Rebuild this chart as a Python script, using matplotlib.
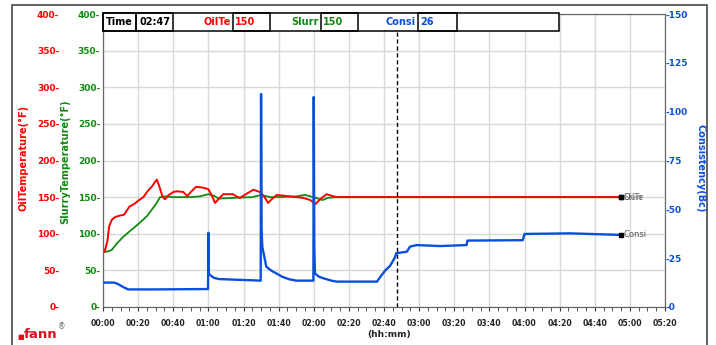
import matplotlib.pyplot as plt
from matplotlib.patches import Rectangle
from matplotlib.ticker import MultipleLocator

# ---- data (minutes since start) ----
oil_t = [0, 1, 2.5, 3.5, 5, 7, 10, 12, 15, 18, 20, 23, 25, 28, 30.6, 32, 34, 35.3, 37, 40, 42,
         45.7, 48, 50, 53, 57, 60, 62, 63.8, 66, 68.5, 74, 76, 78, 82, 85.6, 89.4, 92, 94, 96, 99,
         104.6, 110, 114, 118, 121, 124, 127.4, 130, 133, 295]
oil_v = [74, 76, 90, 110, 119, 123, 125, 126, 137, 141, 145, 150, 157, 165, 174, 165, 150, 147, 152,
         157, 158, 157, 151.5, 157, 164, 163, 160.7, 152, 142, 148, 154, 154, 151, 149, 155, 160, 157,
         150, 142, 147, 153, 151.5, 150, 149, 146, 140.6, 148, 154, 152, 150, 150]

slurry_t = [0, 3, 5, 8, 11.6, 15, 20, 25, 30, 32.5, 35, 40, 50, 55, 60, 63, 66, 75, 85, 90, 95,
            100, 110, 115, 120, 125, 128, 133, 295]
slurry_v = [75, 76, 78, 87, 96, 103, 113, 124, 140, 150, 151, 150, 150, 151, 154, 152, 148, 149,
            150, 153, 150, 150, 151, 153, 150, 146, 149, 150, 150]

consi_t = [0, 6, 8, 10, 12, 14.4, 30, 59.8, 60, 60.3, 61, 63, 66, 75, 89.8, 90, 90.3, 90.7, 93, 96,
           98.7, 102, 106, 110, 119.8, 120, 120.3, 120.7, 123, 125.5, 130, 133, 156, 158.7, 161,
           163.4, 166, 167, 169, 173, 174.8, 178.6, 192, 207, 207.5, 239, 240, 266, 295]
consi_v = [12.5, 12.5, 12, 11, 10, 9, 9, 9.2, 38, 17, 16.4, 15, 14.3, 14, 13.5, 109, 40, 30.9, 20.6,
           18.5, 17.2, 15.5, 14.2, 13.5, 13.5, 107.5, 30, 17.2, 15.5, 14.7, 13.5, 13, 13, 16.4, 19,
           21, 25, 27.5, 27.8, 28.3, 30.9, 31.7, 31.2, 31.7, 34, 34.2, 37.4, 37.7, 36.9]

x_ticks = list(range(0, 321, 20))
x_labels = ["%02d:%02d" % (m // 60, m % 60) for m in x_ticks]
temp_ticks = list(range(0, 401, 50))
consi_ticks = list(range(0, 151, 25))

cursor_t = 167.4
header = {"Time": "02:47", "OilTe": "150", "Slurr": "150", "Consi": "26"}

RED = "#ff0000"
GREEN = "#118a11"
BLUE = "#0a4fdc"
W, H = 716, 345

fig = plt.figure(figsize=(7.16, 3.45), dpi=100)
ax = fig.add_axes([103 / W, 1 - 307 / H, 562 / W, 293 / H])
ax.set_xlim(0, 320)
ax.set_ylim(0, 400)

# grid
ax.set_xticks(x_ticks)
ax.set_xticklabels(x_labels)
ax.xaxis.set_minor_locator(MultipleLocator(5))
ax.grid(True, color="#d8d8d8", lw=1)
ax.tick_params(axis="x", which="both", length=3, color="#333", labelsize=5.6, pad=6,
               labelcolor="#222")
for lab in ax.get_xticklabels():
    lab.set_fontweight("bold")

# green axis (slurry) labels on ax
ax.set_yticks(temp_ticks)
ax.set_yticklabels([f"{v}-" for v in temp_ticks])
ax.tick_params(axis="y", length=0, pad=2, labelsize=6.5, labelcolor=GREEN)
for lab in ax.get_yticklabels():
    lab.set_fontweight("bold")
for s in ax.spines.values():
    s.set_color("#666")

# red axis (oil) labels further left
ax_red = ax.twinx()
ax_red.set_ylim(0, 400)
ax_red.yaxis.set_ticks_position("left")
ax_red.set_yticks(temp_ticks)
ax_red.set_yticklabels([f"{v}-" for v in temp_ticks])
ax_red.tick_params(axis="y", length=0, pad=31.5, labelsize=6.5, labelcolor=RED)
for lab in ax_red.get_yticklabels():
    lab.set_fontweight("bold")
for s in ax_red.spines.values():
    s.set_visible(False)

# blue axis (consistency)
ax_c = ax.twinx()
ax_c.set_ylim(0, 150)
ax_c.set_yticks(consi_ticks)
ax_c.set_yticklabels([f"-{v}" for v in consi_ticks])
ax_c.tick_params(axis="y", length=0, pad=0.5, labelsize=6.5, labelcolor=BLUE)
for lab in ax_c.get_yticklabels():
    lab.set_fontweight("bold")
for s in ax_c.spines.values():
    s.set_color("#666")

# lines
ax.plot(slurry_t, slurry_v, color=GREEN, lw=1.3, zorder=3)
ax.plot(oil_t, oil_v, color=RED, lw=1.4, zorder=4)
ax_c.plot(consi_t, consi_v, color=BLUE, lw=1.7, zorder=5)

# end markers and names
ax.plot([slurry_t[-1]], [slurry_v[-1]], "s", color="k", ms=3, zorder=6)
ax.plot([oil_t[-1]], [oil_v[-1]], "s", color="k", ms=3, zorder=6)
ax_c.plot([consi_t[-1]], [consi_v[-1]], "s", color="k", ms=3, zorder=6)
ax.text(oil_t[-1] + 1.5, oil_v[-1], "OilTe", fontsize=6, color="#666", va="center")
ax.text(slurry_t[-1] + 1.5, slurry_v[-1], "Slurr", fontsize=6, color="#555", va="center", alpha=0.7)
ax_c.text(consi_t[-1] + 1.5, consi_v[-1], "Consi", fontsize=6, color="#555", va="center")

# cursor line
ax.axvline(cursor_t, ymax=(307 - 31) / 293, color="k", ls=(0, (3, 2)), lw=1, zorder=7)

# axis titles
fig.text(23 / W, 1 - 158 / H, "OilTemperature(°F)", rotation=90, color=RED, fontsize=7,
         fontweight="bold", ha="center", va="center")
fig.text(65 / W, 1 - 162 / H, "SlurryTemperature(°F)", rotation=90, color=GREEN, fontsize=7,
         fontweight="bold", ha="center", va="center")
fig.text(700 / W, 1 - 168 / H, "Consistency(Bc)", rotation=-90, color=BLUE, fontsize=7,
         fontweight="bold", ha="center", va="center")
fig.text(389 / W, 1 - 334 / H, "(hh:mm)", color="#222", fontsize=6.5, fontweight="bold",
         ha="center", va="center")


# header box (pixel coords)
def fx(px):
    return px / W


def fy(py):
    return 1 - py / H


top, bot = 13, 31
fig.add_artist(Rectangle((fx(103), fy(bot)), fx(559) - fx(103), fy(top) - fy(bot),
                         transform=fig.transFigure, facecolor="white", edgecolor="k", lw=1.1,
                         zorder=5))
for x0, x1 in [(103, 136), (136, 173), (233, 270), (321, 358), (418, 457)]:
    fig.add_artist(Rectangle((fx(x0), fy(bot)), fx(x1) - fx(x0), fy(top) - fy(bot),
                             transform=fig.transFigure, facecolor="none", edgecolor="k", lw=1.1,
                             zorder=6))
ym = fy(22)
fig.text(fx(119.5), ym, "Time", fontsize=7, fontweight="bold", color="k", ha="center",
         va="center", zorder=7)
fig.text(fx(139), ym, header["Time"], fontsize=7, fontweight="bold", color="k", ha="left",
         va="center", zorder=7)
for name, xr, xv, c in [("OilTe", 231, 235, RED), ("Slurr", 319, 323, GREEN),
                        ("Consi", 416, 420, BLUE)]:
    fig.text(fx(xr), ym, name, fontsize=7, fontweight="bold", color=c, ha="right",
             va="center", zorder=7)
    fig.text(fx(xv), ym, header[name], fontsize=7, fontweight="bold", color=c, ha="left",
             va="center", zorder=7)

# logo
fig.text(fx(17), fy(337), "■", fontsize=5, color="#e0101a", ha="left", va="center")
fig.text(fx(24), fy(335), "fann", fontsize=9.5, fontweight="bold", color="#d8101c",
         ha="left", va="center")
fig.text(fx(58), fy(327), "®", fontsize=5.5, color="#666", ha="left", va="center")

# outer frame
fig.add_artist(Rectangle((fx(12), -0.2), fx(707) - fx(12), fy(5) + 0.2,
                         transform=fig.transFigure, facecolor="none", edgecolor="#555", lw=1.3,
                         zorder=10))

fig.savefig("out.png", dpi=100)
